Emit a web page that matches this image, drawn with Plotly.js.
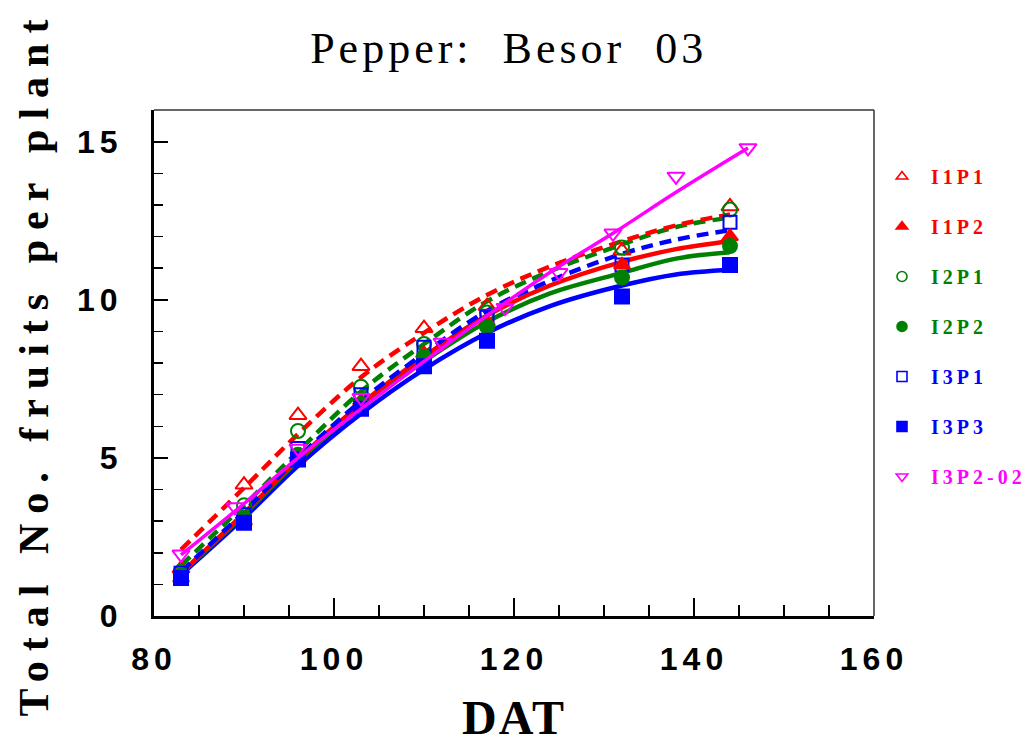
<!DOCTYPE html>
<html>
<head>
<meta charset="utf-8">
<script src="https://cdn.plot.ly/plotly-3.0.1.min.js"></script>
<style>
  html, body { margin: 0; padding: 0; background: #fff; }
  #chart { width: 1036px; height: 745px; }
  .xtick text, .ytick text { letter-spacing: 5px; }
  .ytitle { letter-spacing: 10px; }
  .xtitle { letter-spacing: 2px; }
  .legendtext { letter-spacing: 4px; }
  .gtitle { letter-spacing: 4px; }
</style>
</head>
<body>
<div id="chart"></div>
<script>
// Observed data (days after transplanting)
const dat = [83, 90, 96, 103, 110, 117, 132, 144];
const i1p1 = [1.5, 4.15, 6.35, 7.9, 9.1, 9.8, 11.55, 12.95];
const i1p2 = [1.2, 3.0, 5.0, 6.8, 8.3, 9.3, 11.1, 12.0];
const i2p1 = [1.4, 3.5, 5.85, 7.25, 8.6, 9.6, 11.65, 12.85];
const i2p2 = [1.3, 3.1, 5.1, 6.7, 8.2, 9.15, 10.7, 11.7];
const i3p1 = [1.35, 3.2, 5.3, 7.0, 8.5, 9.45, 11.1, 12.45];
const i3p3 = [1.2, 2.95, 4.95, 6.55, 7.9, 8.7, 10.1, 11.1];
const datM = [83, 89, 96, 103, 112, 119, 125, 131, 138, 146];
const i3p2_02 = [1.95, 3.45, 5.3, 6.9, 8.65, 9.75, 10.85, 12.1, 13.9, 14.8];

// Fitted curves
const fitX = [83, 90, 96, 103, 110, 117, 124, 132, 138, 144];
const fitI1P1 = [2.1, 4.05, 5.75, 7.55, 8.95, 10.15, 11.05, 11.85, 12.35, 12.7];
const fitI1P2 = [1.35, 3.25, 4.95, 6.7, 8.2, 9.5, 10.45, 11.2, 11.6, 11.85];
const fitI2P1 = [1.6, 3.5, 5.2, 7.1, 8.6, 9.95, 10.9, 11.75, 12.3, 12.6];
const fitI2P2 = [1.35, 3.2, 4.9, 6.6, 8.05, 9.3, 10.2, 10.85, 11.3, 11.5];
const fitI3P1 = [1.4, 3.3, 5.0, 6.8, 8.3, 9.65, 10.6, 11.45, 11.9, 12.2];
const fitI3P3 = [1.3, 3.1, 4.75, 6.4, 7.8, 8.95, 9.8, 10.45, 10.8, 10.95];
const fitMX = [83, 90, 96, 103, 110, 117, 125, 131, 138, 146];
const fitM = [1.93, 3.55, 5.0, 6.55, 8.05, 9.5, 11.05, 12.1, 13.4, 14.8];

const names = ['I1P1', 'I1P2', 'I2P1', 'I2P2', 'I3P1', 'I3P3', 'I3P2-02'];

const RED = '#ff0000', GREEN = '#008000', BLUE = '#0000ff', MAG = '#ff00ff';
const DASH = '12px,7px';

function fit(x, y, color, dash, w) {
  return { x: x, y: y, type: 'scatter', mode: 'lines', showlegend: false, hoverinfo: 'skip',
    line: { color: color, width: w || 4.5, dash: dash || 'solid', shape: 'spline', smoothing: 1 } };
}
function pts(x, y, color, symbol, size) {
  return { x: x, y: y, type: 'scatter', mode: 'markers', showlegend: false,
    marker: { color: color, symbol: symbol, size: size || 14, line: { color: color, width: 2 } } };
}
function leg(name, color, symbol) {
  return { x: [null], y: [null], type: 'scatter', mode: 'markers', legendgroup: name,
    name: '<span style="color:' + color + '">\u00a0' + name + '</span>',
    marker: { color: color, symbol: symbol, size: 10, line: { color: color, width: 1.6 } } };
}

const traces = [
  fit(fitX, fitI3P3, BLUE),
  fit(fitX, fitI2P2, GREEN),
  fit(fitX, fitI1P2, RED),
  fit(fitX, fitI3P1, BLUE, DASH),
  fit(fitX, fitI2P1, GREEN, DASH),
  fit(fitX, fitI1P1, RED, DASH),
  pts(dat, i1p1, RED, 'triangle-up-open', 15),
  pts(dat, i2p1, GREEN, 'circle-open', 14),
  pts(dat, i3p1, BLUE, 'square-open', 13),
  pts(dat, i1p2, RED, 'triangle-up', 14),
  pts(dat, i2p2, GREEN, 'circle', 14),
  pts(dat, i3p3, BLUE, 'square', 14),
  fit(fitMX, fitM, MAG, 'solid', 3.5),
  pts(datM, i3p2_02, MAG, 'triangle-down-open', 15),
  leg(names[0], RED, 'triangle-up-open'),
  leg(names[1], RED, 'triangle-up'),
  leg(names[2], GREEN, 'circle-open'),
  leg(names[3], GREEN, 'circle'),
  leg(names[4], BLUE, 'square-open'),
  leg(names[5], BLUE, 'square'),
  leg(names[6], MAG, 'triangle-down-open')
];

const tickFont = { family: 'Liberation Sans, Arial, sans-serif', size: 32, color: '#000', weight: 'bold' };

const layout = {
  width: 1036, height: 745,
  paper_bgcolor: '#fff', plot_bgcolor: '#fff',
  margin: { l: 154, r: 162, t: 110, b: 129 },
  title: { text: 'Pepper:  Besor  03', x: 0.491, xref: 'container', y: 1 - 48 / 745, yref: 'container',
    xanchor: 'center', yanchor: 'middle',
    font: { family: 'Liberation Serif, Times New Roman, serif', size: 44, color: '#000' } },
  xaxis: {
    range: [80, 160], dtick: 20, tick0: 80, ticks: 'inside', ticklen: 18, tickwidth: 2, tickcolor: '#000',
    minor: { dtick: 5, ticks: 'inside', ticklen: 11, tickwidth: 1.5, tickcolor: '#000' },
    showline: true, linewidth: 3, linecolor: '#000', showgrid: false, zeroline: false,
    tickfont: tickFont, ticklabelstandoff: 13,
    title: { text: 'DAT', standoff: 24,
      font: { family: 'Liberation Serif, Times New Roman, serif', size: 48, color: '#000', weight: 'bold' } }
  },
  yaxis: {
    range: [0, 16], tickvals: [0, 5, 10, 15], ticks: 'inside', ticklen: 14, tickwidth: 2, tickcolor: '#000',
    minor: { dtick: 1, ticks: 'inside', ticklen: 9, tickwidth: 1.5, tickcolor: '#000' },
    showline: true, linewidth: 3, linecolor: '#000', showgrid: false, zeroline: false,
    tickfont: tickFont, ticklabelstandoff: 22,
    title: { text: 'Total No. fruits per plant', standoff: 16,
      font: { family: 'Liberation Serif, Times New Roman, serif', size: 42, color: '#000', weight: 'bold' } }
  },
  shapes: [
    { type: 'line', xref: 'paper', yref: 'paper', x0: 0, x1: 1, y0: 1, y1: 1, line: { color: '#333', width: 1.5 } },
    { type: 'line', xref: 'paper', yref: 'paper', x0: 1, x1: 1, y0: 0, y1: 1, line: { color: '#333', width: 1.5 } }
  ],
  showlegend: true,
  legend: {
    xref: 'container', yref: 'container',
    x: 882 / 1036, xanchor: 'left', y: 1 - 157 / 745, yanchor: 'top',
    bgcolor: 'rgba(0,0,0,0)', borderwidth: 0, tracegroupgap: 21,
    font: { family: 'Liberation Serif, Times New Roman, serif', size: 20, weight: 'bold' }
  }
};

Plotly.newPlot('chart', traces, layout, { displayModeBar: false, staticPlot: true });
</script>
</body>
</html>
